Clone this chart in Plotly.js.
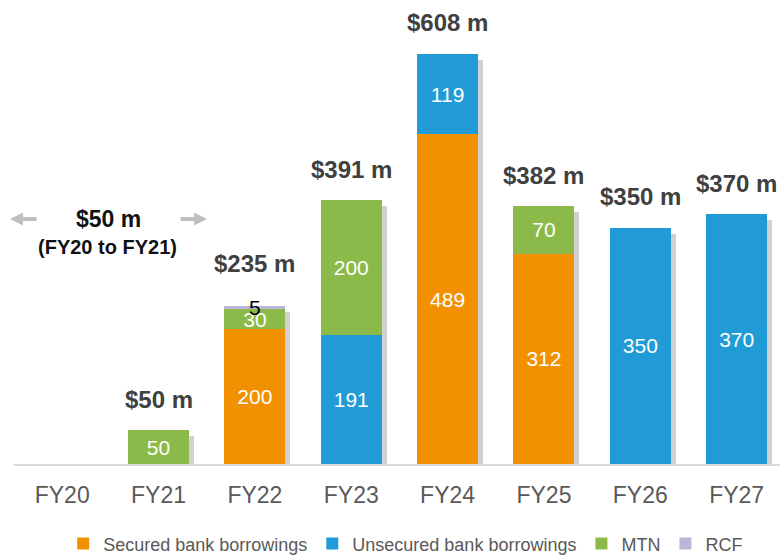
<!DOCTYPE html>
<html>
<head>
<meta charset="utf-8">
<script src="https://cdn.plot.ly/plotly-3.0.1.min.js"></script>
<style>html,body{margin:0;padding:0;background:#fff;}#chart{width:780px;height:555px;}</style>
</head>
<body>
<div id="chart"></div>
<script>
// ---- data ----
const categories = ['FY20', 'FY21', 'FY22', 'FY23', 'FY24', 'FY25', 'FY26', 'FY27'];
const secured   = [null, null, 200, null, 489, 312, null, null];
const unsecured = [null, null, null, 191, 119, null, 350, 370];
const mtn       = [null, 50, 30, 200, null, 70, null, null];
const rcf       = [null, null, 5, null, null, null, null, null];
const seriesNames = ['Secured bank borrowings', 'Unsecured bank borrowings', 'MTN', 'RCF'];
const seriesColors = ['#F29100', '#219BD6', '#8BBA4A', '#B9B6DA'];
const rangeNote = ['$50 m', '(FY20 to FY21)'];

const FONT = '"Liberation Sans", Arial, sans-serif';
const totals = categories.map((c, i) =>
  [secured, unsecured, mtn, rcf].reduce((s, a) => s + (a[i] || 0), 0));
const txt = arr => arr.map(v => (v ? String(v) : ''));

const pxPerUnit = 464 / 688;
const xr0 = -0.5, xr1 = 7.45, catPx = 766 / (xr1 - xr0);
const shX = 5 / catPx, shY = 6 / pxPerUnit;

const mainSeries = [secured, unsecured, mtn, rcf];
const traces = [];
// soft shadow (behind, on base axes)
traces.push({
  type: 'bar', x: categories, y: totals.map(v => v || null),
  xaxis: 'x', yaxis: 'y', marker: {color: 'rgba(0,0,0,0.18)'},
  showlegend: false, hoverinfo: 'skip'
});
mainSeries.forEach((arr, k) => {
  const isRcf = k === 3;
  traces.push({
    type: 'bar', name: seriesNames[k], x: categories, y: arr,
    xaxis: 'x2', yaxis: 'y2',
    marker: {color: seriesColors[k]},
    text: txt(arr),
    textposition: 'inside',
    insidetextanchor: 'middle',
    textangle: 0,
    constraintext: 'none',
    cliponaxis: false,
    textfont: {family: FONT, size: 21, color: isRcf ? '#000000' : '#ffffff'},
    hoverinfo: 'name+y'
  });
});

const annotations = [];
categories.forEach((c, i) => {
  if (!totals[i]) return;
  annotations.push({
    xref: 'x2', yref: 'y2', x: c, y: totals[i],
    text: '$' + totals[i] + ' m', showarrow: false,
    xanchor: 'center', yanchor: 'middle', yshift: rcf[i] ? 42 : 31,
    font: {family: FONT, size: 24, color: '#404040', weight: 'bold'}
  });
});
const px = p => (p - 14) / 766, py = p => (464 - p) / 464;
annotations.push({xref: 'paper', yref: 'paper', x: px(108), y: py(219), text: rangeNote[0],
  xanchor: 'center', yanchor: 'middle',
  showarrow: false, font: {family: FONT, size: 23, color: '#111111', weight: 'bold'}});
annotations.push({xref: 'paper', yref: 'paper', x: px(107), y: py(247), text: rangeNote[1],
  xanchor: 'center', yanchor: 'middle',
  showarrow: false, font: {family: FONT, size: 20, color: '#111111', weight: 'bold'}});
annotations.push({xref: 'paper', yref: 'paper', x: px(10), y: py(219), text: '', showarrow: true,
  ax: 28, ay: 0, arrowhead: 2, arrowwidth: 4, arrowsize: 0.65, arrowcolor: '#BFBFBF', standoff: 0});
annotations.push({xref: 'paper', yref: 'paper', x: px(207), y: py(219), text: '', showarrow: true,
  ax: -28, ay: 0, arrowhead: 2, arrowwidth: 4, arrowsize: 0.65, arrowcolor: '#BFBFBF', standoff: 0});

const layout = {
  width: 780, height: 555,
  margin: {l: 14, r: 0, t: 0, b: 91},
  paper_bgcolor: '#ffffff', plot_bgcolor: '#ffffff',
  barmode: 'stack', bargap: 0.367,
  font: {family: FONT, color: '#595959'},
  showlegend: true,
  xaxis: {type: 'category', categoryarray: categories, range: [xr0 - shX, xr1 - shX],
    visible: false, fixedrange: true},
  yaxis: {range: [shY, 688 + shY], visible: false, fixedrange: true},
  xaxis2: {type: 'category', categoryarray: categories, overlaying: 'x', side: 'bottom',
    range: [xr0, xr1], showgrid: false, zeroline: false, showline: true,
    linecolor: '#D9D9D9', linewidth: 1.5, ticks: '', ticklabelstandoff: 10,
    tickfont: {family: FONT, size: 23, color: '#595959'}, fixedrange: true},
  yaxis2: {overlaying: 'y', range: [0, 688], visible: false, showgrid: false,
    zeroline: false, fixedrange: true},
  legend: {orientation: 'h', xref: 'container', yref: 'container', x: 0.081, y: 0.02,
    xanchor: 'left', yanchor: 'middle', font: {family: FONT, size: 18, color: '#595959'},
    traceorder: 'normal', bgcolor: 'rgba(0,0,0,0)'},
  annotations: annotations
};

Plotly.newPlot('chart', traces, layout, {displayModeBar: false, staticPlot: true});
</script>
</body>
</html>
